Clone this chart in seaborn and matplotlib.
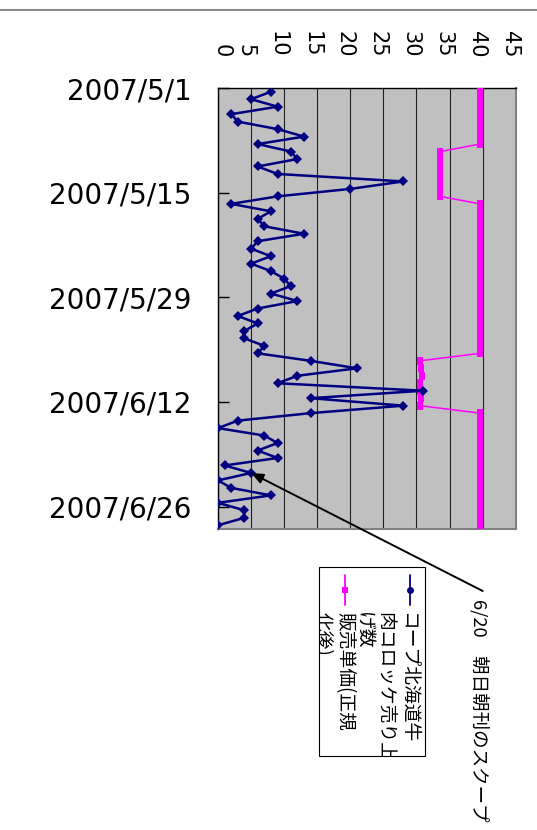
import pandas as pd
import matplotlib
matplotlib.use("Agg")
import matplotlib.pyplot as plt
from matplotlib.lines import Line2D
from matplotlib.patches import Rectangle
from matplotlib.transforms import Bbox, ScaledTranslation
import seaborn as sns

# ---- data -------------------------------------------------------------
start_date = "2007-05-01"

# daily croquette sales (units)
croquette_sales = [8, 5, 9, 2, 3, 9, 13, 6, 11, 12, 6, 9, 28, 20, 9, 2, 8, 6, 7, 13,
                   6, 5, 8, 5, 8, 10, 11, 8, 12, 6, 3, 6, 4, 4, 7, 6, 14, 21, 12, 9,
                   31, 14, 28, 14, 3, 0, 7, 9, 6, 9, 1, 5, 0, 2, 8, 0, 4, 4, 0]

# normalised unit price
unit_price = [39.6, 39.6, 39.6, 39.6, 39.6, 39.6, 39.6, 39.6,
              33.6, 33.6, 33.6, 33.6, 33.6, 33.6, 33.6,
              39.6, 39.6, 39.6, 39.6, 39.6, 39.6, 39.6, 39.6, 39.6, 39.6, 39.6,
              39.6, 39.6, 39.6, 39.6, 39.6, 39.6, 39.6, 39.6, 39.6, 39.6,
              30.5, 30.7, 30.8, 30.6, 30.6, 30.7, 30.5,
              39.6, 39.6, 39.6, 39.6, 39.6, 39.6, 39.6, 39.6, 39.6, 39.6, 39.6,
              39.6, 39.6, 39.6, 39.6, 39.6]

date_ticks = ["2007-05-01", "2007-05-15", "2007-05-29", "2007-06-12", "2007-06-26"]
value_ticks = [0, 5, 10, 15, 20, 25, 30, 35, 40, 45]

legend_sales_lines = ["コープ北海道牛", "肉コロッケ売り上", "げ数"]
legend_price_lines = ["販売単価(正規", "化後)"]
note_text = "6/20\u3000朝日朝刊のスクープ"
note_index = 51

# ---- styling ------------------------------------------------------------
sns.set_style("white")
plt.rcParams["font.family"] = ["DejaVu Sans"]
plt.rcParams["text.color"] = "black"
JP = ["Noto Sans CJK JP", "DejaVu Sans"]

NAVY = "#000080"
MAGENTA = "#FF00FF"

# tall rectangular marker so the daily price markers stack into a solid bar
price_marker = [(-0.4, -0.5), (0.4, -0.5), (0.4, 0.5), (-0.4, 0.5), (-0.4, -0.5)]

W, H = 537, 830
fig = plt.figure(figsize=(W / 100, H / 100), dpi=100)
fig.patch.set_facecolor("white")


def fx(px):
    return px / W


def fy(py):
    return 1 - py / H


ax = fig.add_axes([fx(218), fy(529), fx(515.7) - fx(218), fy(88) - fy(529)])
ax.set_facecolor("#C0C0C0")

days = pd.date_range(start_date, periods=len(croquette_sales), freq="D")
df = pd.DataFrame({
    "date": days + pd.Timedelta(hours=12),   # each day sits mid-interval
    "sales": croquette_sales,
    "price": unit_price,
})

sns.lineplot(data=df, x="price", y="date", orient="y", estimator=None,
             color=MAGENTA, lw=1.1, marker=price_marker, markersize=5.6,
             markeredgewidth=0, ax=ax, zorder=3)
sns.lineplot(data=df, x="sales", y="date", orient="y", estimator=None,
             color=NAVY, lw=1.8, marker="D", markersize=5,
             markeredgewidth=0, ax=ax, zorder=4)

# ---- axes ---------------------------------------------------------------
ax.set_xlim(0, 45)
ax.set_ylim(days[-1] + pd.Timedelta(days=1), days[0])
ax.set_xlabel("")
ax.set_ylabel("")

ax.xaxis.tick_top()
ax.set_xticks(value_ticks)
ax.set_xticklabels([str(v) for v in value_ticks], rotation=-90, fontsize=15)
ax.tick_params(axis="x", top=True, bottom=False, labeltop=True, labelbottom=False,
               direction="in", length=0, pad=22, labelcolor="black")
for v, lab in zip(value_ticks, ax.get_xticklabels()):
    dx = 4 if v == 0 else -6      # keep the first label inside the frame edge
    lab.set_transform(lab.get_transform()
                      + ScaledTranslation(dx / 100, 0, fig.dpi_scale_trans))

tick_dates = pd.to_datetime(date_ticks)
ax.set_yticks(tick_dates)
ax.set_yticklabels([f"{d.year}/{d.month}/{d.day}" for d in tick_dates], fontsize=20)
ax.tick_params(axis="y", left=True, direction="in", length=8, width=1,
               color="black", pad=19, labelcolor="black")

ax.grid(axis="x", color="#202020", lw=0.8)
ax.grid(axis="y", visible=False)
ax.set_axisbelow(True)

for side in ("left", "top"):
    ax.spines[side].set_color("black")
    ax.spines[side].set_linewidth(1)
for side in ("right", "bottom"):
    ax.spines[side].set_color("#808080")
    ax.spines[side].set_linewidth(1.5)

# ---- rule across the top ------------------------------------------------
fig.add_artist(Line2D([0, 1], [fy(9.7), fy(9.7)], transform=fig.transFigure,
                      color="#8a8a8a", lw=1.5))

# ---- legend (vertical layout) -------------------------------------------
box_l, box_r, box_t, box_b = 319.3, 425, 567.3, 755.7
fig.add_artist(Rectangle((fx(box_l), fy(box_b)), fx(box_r) - fx(box_l),
                         fy(box_t) - fy(box_b), transform=fig.transFigure,
                         facecolor="white", edgecolor="black", lw=0.8, zorder=5))

for xpix, col, mk, ms in ((410, NAVY, "o", 5), (345, MAGENTA, "s", 5)):
    fig.add_artist(Line2D([fx(xpix), fx(xpix)], [fy(575), fy(605)],
                          transform=fig.transFigure, color=col, lw=1.3, zorder=6))
    fig.add_artist(Line2D([fx(xpix)], [fy(590)], transform=fig.transFigure,
                          color=col, marker=mk, markersize=ms,
                          markeredgewidth=0, zorder=7))

clip_sales = Bbox.from_extents(358, H - box_b, box_r, H - box_t)
clip_price = Bbox.from_extents(box_l + 0.5, H - box_b, 358, H - box_t)
for lines, x0, clip in ((legend_sales_lines, 407.5, clip_sales),
                        (legend_price_lines, 344.5, clip_price)):
    for i, line in enumerate(lines):
        t = fig.text(fx(x0 - 22.5 * i), fy(612), line, rotation=-90,
                     ha="center", va="top", fontsize=13.5, family=JP, zorder=8)
        t.set_clip_box(clip)
        t.set_clip_on(True)

# ---- annotation ---------------------------------------------------------
fig.text(fx(479), fy(599), note_text, rotation=-90, ha="center", va="top",
         fontsize=13.3, family=JP)
ax.annotate("", xy=(croquette_sales[note_index], df["date"][note_index]),
            xytext=(482.7, H - 591), textcoords="figure pixels",
            arrowprops=dict(arrowstyle="-|>,head_length=0.6,head_width=0.25",
                            color="black", lw=1.4, shrinkA=0, shrinkB=0,
                            mutation_scale=12),
            annotation_clip=False, zorder=9)

fig.savefig("out.png", dpi=100)
